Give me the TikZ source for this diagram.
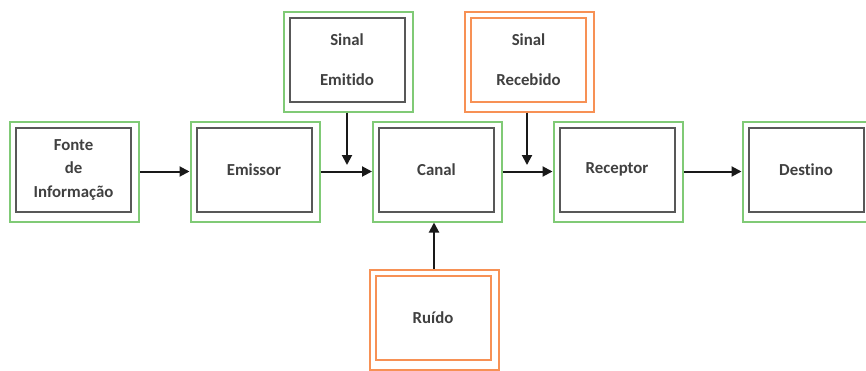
\documentclass[tikz,border=0pt]{standalone}
\usepackage{fontspec}
\setmainfont{Carlito}[Ligatures={NoCommon}]
\usetikzlibrary{arrows.meta}
\definecolor{boxgreen}{RGB}{128,202,118}
\definecolor{boxorange}{RGB}{247,145,85}
\definecolor{innergray}{RGB}{88,88,88}
\definecolor{txtgray}{RGB}{64,64,64}
\definecolor{arrowdark}{RGB}{25,25,25}
\tikzset{
  outerbox/.style={draw=#1, line width=2pt, inner sep=0pt, minimum width=129pt, minimum height=100pt},
  innerbox/.style={draw=#1, line width=2pt, inner sep=0pt, minimum width=115pt, minimum height=84pt,
    align=center, text=txtgray, font=\fontsize{16.8}{23.5}\selectfont\bfseries},
  flow/.style={draw=arrowdark, line width=2pt, -{Triangle[length=10pt,width=10pt]}}
}
\begin{document}
\begin{tikzpicture}[x=1pt,y=-1pt]
\useasboundingbox (0,0) rectangle (866,370);
\clip (0,0) rectangle (866,370);
% outer boxes
\node[outerbox=boxgreen] (fonte) at (74.5,171.5) {};
\node[outerbox=boxgreen] (emissor) at (255,171.5) {};
\node[outerbox=boxgreen] (canal) at (437.5,171.5) {};
\node[outerbox=boxgreen] (receptor) at (618,171.5) {};
\node[outerbox=boxgreen] (destino) at (807,171.5) {};
\node[outerbox=boxgreen] (semit) at (348,61.5) {};
\node[outerbox=boxorange] (srec) at (529.5,61.5) {};
\node[outerbox=boxorange] (ruido) at (434,319.5) {};
% inner boxes with text
\node[innerbox=innergray] (fontei) at (73.5,169.5) {Fonte\\de\\Informação};
\node[innerbox=innergray] (emissori) at (254,169.5) {Emissor};
\node[innerbox=innergray] (canali) at (436.5,169.5) {Canal};
\node[innerbox=innergray] (receptori) at (617,169.5) {Receptor};
\node[innerbox=innergray] (destinoi) at (806,169.5) {Destino};
\node[innerbox=innergray] (semiti) at (347,59.5) {Sinal\\[16pt]Emitido};
\node[innerbox=boxorange] (sreci) at (528.5,59.5) {Sinal\\[16pt]Recebido};
\node[innerbox=boxorange] (ruidoi) at (433,317.5) {Ruído};
% join points
\coordinate (j1) at (347,165);
\coordinate (j2) at (527,165);
% connectors
\draw[flow] (fonte.east) -- (emissor.west);
\draw[flow] (emissor.east) -- (canal.west);
\draw[flow] (canal.east) -- (receptor.west);
\draw[flow] (receptor.east) -- (destino.west);
\draw[flow] (semit.south -| j1) -- (j1);
\draw[flow] (srec.south -| j2) -- (j2);
\draw[flow] (ruido.north) -- (ruido.north |- canal.south);
\end{tikzpicture}
\end{document}
